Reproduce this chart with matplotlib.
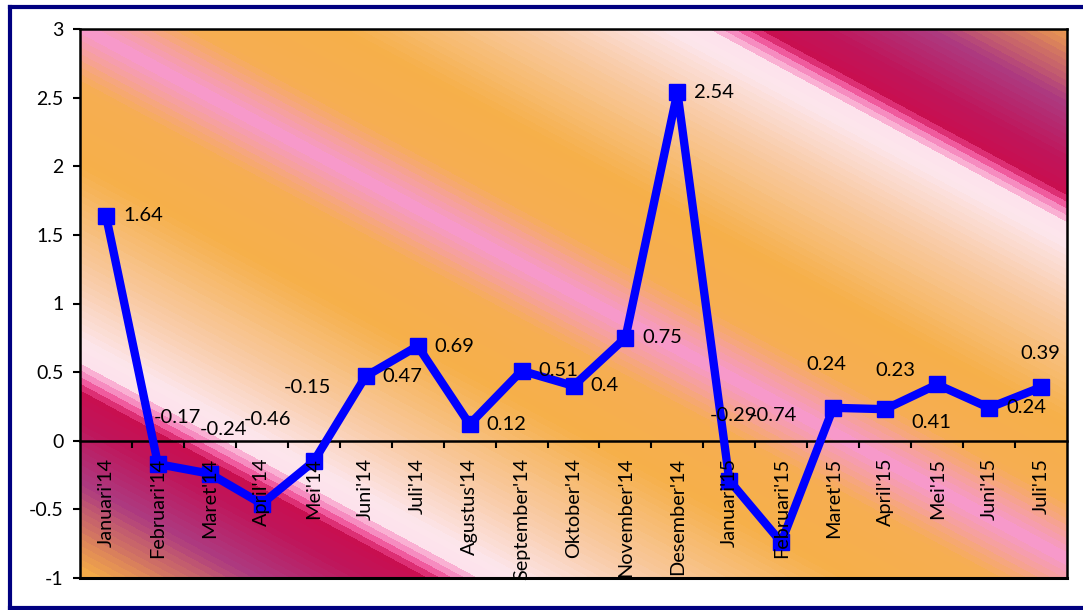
import numpy as np
import matplotlib
matplotlib.use("Agg")
import matplotlib.pyplot as plt
from matplotlib.colors import LinearSegmentedColormap
from matplotlib.lines import Line2D

plt.rcParams['font.family'] = ['Lato', 'DejaVu Sans']
plt.rcParams['axes.unicode_minus'] = False

# data
months = ["Januari'14", "Februari'14", "Maret'14", "April'14", "Mei'14", "Juni'14",
          "Juli'14", "Agustus'14", "September'14", "Oktober'14", "November'14",
          "Desember'14", "Januari'15", "Februari'15", "Maret'15", "April'15",
          "Mei'15", "Juni'15", "Juli'15"]
values = [1.64, -0.17, -0.24, -0.46, -0.15, 0.47, 0.69, 0.12, 0.51, 0.4, 0.75,
          2.54, -0.29, -0.74, 0.24, 0.23, 0.41, 0.24, 0.39]
value_labels = ["1.64", "-0.17", "-0.24", "-0.46", "-0.15", "0.47", "0.69", "0.12",
                "0.51", "0.4", "0.75", "2.54", "-0.29", "-0.74", "0.24", "0.23",
                "0.41", "0.24", "0.39"]
yticks = [-1, -0.5, 0, 0.5, 1, 1.5, 2, 2.5, 3]
ytick_labels = ["-1", "-0.5", "0", "0.5", "1", "1.5", "2", "2.5", "3"]

# label placement (pixel offsets from the point, y up), 'r' = to the right
label_pos = ['r', (19, 47), (14, 44), (6, 84), (-6, 74), 'r', 'r', 'r', 'r', 'r', 'r',
             'r', (4, 65), (-8, 127), (-7, 43), (10, 39), (-6, -38), 'r', (-1, 34)]

W, H = 1083, 610
fig = plt.figure(figsize=(W / 100, H / 100), dpi=100, facecolor='white')
ax = fig.add_axes([80 / W, 1 - 578 / H, 987 / W, 549 / H])

# diagonal background gradient (mirrored around a pink band)
stops = [(0.00, '#F799CA'), (0.10, '#F6AE52'), (0.25, '#F6B04A'), (0.45, '#F9CBA6'),
         (0.58, '#FDE6EC'), (0.615, '#FDE2EC'), (0.625, '#FBB8D8'), (0.64, '#F68ABF'),
         (0.655, '#EE4B93'), (0.672, '#C90F50'), (0.73, '#C0155A'), (0.84, '#AD3A80'),
         (1.00, '#F4AA48')]
cmap = LinearSegmentedColormap.from_list('bg', stops)
u = np.linspace(0, 1, 987)[None, :]
v = np.linspace(1, 0, 549)[:, None]
c = 534.8 - 549 * v - 533 * u
s = np.clip(np.abs(c + 17) / 540, 0, 1)
s = np.floor(s * 80) / 80
ax.imshow(s, cmap=cmap, vmin=0, vmax=1, extent=(-0.5, 18.5, -1, 3),
          aspect='auto', zorder=0, interpolation='nearest')

x = np.arange(len(months))
ax.plot(x, values, color='#0000FF', lw=6, marker='s', markersize=12,
        markerfacecolor='#0000FF', markeredgecolor='#0000FF', zorder=3,
        solid_joinstyle='round')

px = 0.72  # points per pixel
for i, (val, txt, pos) in enumerate(zip(values, value_labels, label_pos)):
    if pos == 'r':
        ax.annotate(txt, (i, val), xytext=(17 * px, 0), textcoords='offset points',
                    ha='left', va='center', fontsize=14.5, zorder=5)
    else:
        ax.annotate(txt, (i, val), xytext=(pos[0] * px, pos[1] * px),
                    textcoords='offset points', ha='center', va='center',
                    fontsize=14.5, zorder=5)

# category labels under the zero line
for i, m in enumerate(months):
    ax.annotate(m, (i, 0), xytext=(0, -17 * px), textcoords='offset points',
                rotation=90, ha='center', va='top', fontsize=14.3, zorder=5)

ax.set_xlim(-0.5, 18.5)
ax.set_ylim(-1, 3)
ax.set_yticks(yticks)
ax.set_yticklabels(ytick_labels, fontsize=14)
ax.tick_params(axis='y', direction='out', length=5, width=1.5, pad=7)
ax.set_xticks(x)
ax.set_xticklabels([])
ax.set_xticks(np.arange(0.5, 18, 1), minor=True)
ax.tick_params(axis='x', which='major', length=0)
ax.tick_params(axis='x', which='minor', direction='out', length=5, width=1.5)

ax.spines['bottom'].set_position(('data', 0))
for sp in ax.spines.values():
    sp.set_linewidth(1.8)
    sp.set_color('black')
ax.plot([0, 1], [0, 0], transform=ax.transAxes, color='black', lw=2.2,
        clip_on=False, zorder=2.6)

# outer navy frame (right side falls outside the picture)
fx0, fy0, fy1 = 10 / W, 1 - 608 / H, 1 - 7 / H
for xs, ys in [([fx0, 1.05], [fy1, fy1]), ([fx0, fx0], [fy0, fy1]), ([fx0, 1.05], [fy0, fy0])]:
    fig.add_artist(Line2D(xs, ys, transform=fig.transFigure, color='#000080', lw=3))

fig.savefig('out.png', dpi=100, facecolor='white')
